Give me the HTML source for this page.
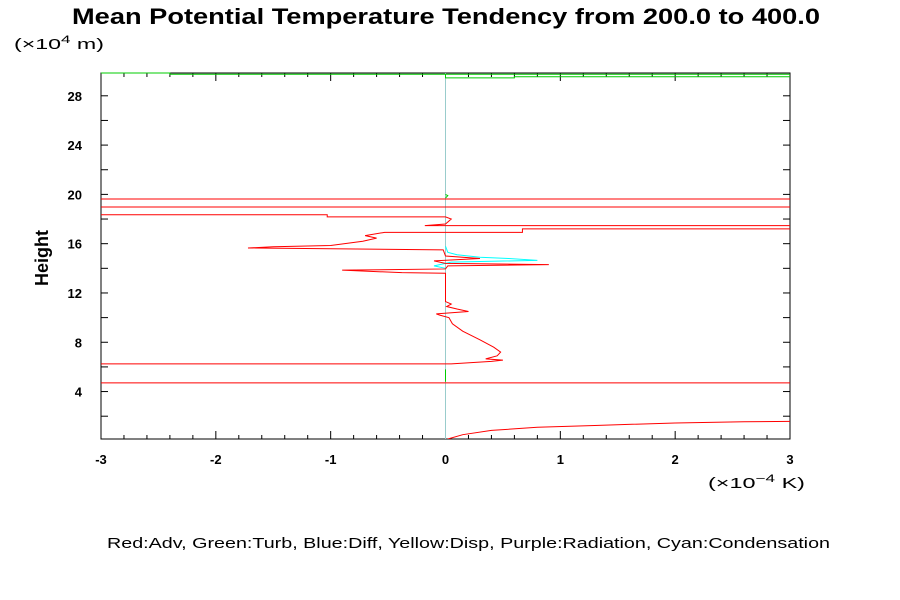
<!DOCTYPE html>
<html><head><meta charset="utf-8"><style>
body{margin:0;background:#fff;width:900px;height:600px;overflow:hidden;font-family:"Liberation Sans",sans-serif}
svg{display:block}
</style></head><body>
<svg id="c" width="900" height="600" xmlns="http://www.w3.org/2000/svg">
<text x="72" y="24" textLength="748" lengthAdjust="spacingAndGlyphs" font-size="22" font-weight="bold">Mean Potential Temperature Tendency from 200.0 to 400.0</text>
<text x="14" y="49" textLength="90" lengthAdjust="spacingAndGlyphs" font-size="15">(×10<tspan dy="-6" font-size="11">4</tspan><tspan dy="6"> m)</tspan></text>
<text x="48" y="258" text-anchor="middle" font-size="18" font-weight="bold" transform="rotate(-90 48 258)">Height</text>
<text x="708" y="488" textLength="97" lengthAdjust="spacingAndGlyphs" font-size="15">(×10<tspan dy="-6" font-size="11">−4</tspan><tspan dy="6"> K)</tspan></text>
<text x="107" y="548" textLength="723" lengthAdjust="spacingAndGlyphs" font-size="15">Red:Adv, Green:Turb, Blue:Diff, Yellow:Disp, Purple:Radiation, Cyan:Condensation</text>
<g id="ax"></g>
<g id="marks"></g>
</svg>
<script>
const xTicks=[-3,-2,-1,0,1,2,3];
const yTicks=[4,8,12,16,20,24,28];
const advX=[0.02,0.15,0.4,0.8,1.3,2.0,2.6,3.2,3.2,-3.2,-3.2,0.05,0.4,0.5,0.35,0.45,0.48,0.42,0.3,0.15,0.06,0.03,-0.05,-0.08,0.2,0.1,0.01,0.05,0.0,0.0,-0.38,-0.9,0.0,0.02,0.9,0.0,-0.1,0.3,0.0,-0.02,-1.72,-1.5,-1.0,-0.72,-0.6,-0.7,-0.53,0.67,0.67,3.2,3.2,-0.18,0.0,0.05,0.0,-1.03,-1.03,-3.2,-3.2,3.2,3.2,-3.2];
const advY=[0.15,0.5,0.85,1.1,1.25,1.45,1.55,1.6,4.7,4.7,6.25,6.25,6.45,6.55,6.65,6.9,7.2,7.6,8.2,8.9,9.5,10.0,10.2,10.3,10.5,10.7,10.9,11.1,11.3,13.6,13.65,13.85,13.95,14.2,14.3,14.4,14.6,14.8,15.0,15.5,15.65,15.75,15.85,16.2,16.45,16.65,16.92,16.92,17.2,17.2,17.46,17.46,17.6,18.0,18.17,18.17,18.35,18.35,18.98,18.98,19.63,19.63];
const condX=[0,0.02,0.1,0.3,0.55,0.8,0.3,0.05,0,-0.1,0];
const condY=[15.8,15.3,15.1,14.9,14.8,14.65,14.55,14.5,14.4,14.2,14.0];
const turbLowX=[0,0], turbLowY=[4.8,5.8];
const turbMidX=[0,0.02,0], turbMidY=[19.7,19.9,20.0];
const turbTopX=[-3.2,-2.4,-2.4,3.2], turbTopY=[29.85,29.85,29.75,29.75];
const turbTop2X=[0,0,0.6,0.6,3.2], turbTop2Y=[29.75,29.45,29.45,29.55,29.55];
const X0=101,X1=790,Y0=73,Y1=439,XMIN=-3,XMAX=3,YMIN=0.15,YMAX=29.85;
const sx=v=>X0+(v-XMIN)/(XMAX-XMIN)*(X1-X0);
const sy=v=>Y1-(v-YMIN)/(YMAX-YMIN)*(Y1-Y0);
const NS='http://www.w3.org/2000/svg';
function mk(t,a,p){const e=document.createElementNS(NS,t);for(const k in a)e.setAttribute(k,a[k]);p.appendChild(e);return e;}
const ax=document.getElementById('ax'),mg=document.getElementById('marks');
const clip=mk('clipPath',{id:'pc'},ax);mk('rect',{x:X0,y:Y0-1,width:X1-X0,height:Y1-Y0+1},clip);
const frame=mk('rect',{x:X0,y:Y0,width:X1-X0,height:Y1-Y0,fill:'none',stroke:'#000','stroke-width':1},ax);


for(let i=0;i<=30;i++){const v=-3+i*0.2;const x=sx(v);const maj=i%5==0;const L=maj?8:4;
mk('line',{x1:x,y1:Y1,x2:x,y2:Y1-L,stroke:'#000'},ax);mk('line',{x1:x,y1:Y0,x2:x,y2:Y0+L,stroke:'#000'},ax);}
for(let v=2;v<=28;v+=2){const y=sy(v);mk('line',{x1:X0,y1:y,x2:X0+7,y2:y,stroke:'#000'},ax);mk('line',{x1:X1,y1:y,x2:X1-7,y2:y,stroke:'#000'},ax);}
xTicks.forEach(v=>{const t=mk('text',{x:sx(v),y:464,'text-anchor':'middle','font-size':13,'font-weight':'bold'},ax);t.textContent=v;

});
yTicks.forEach(v=>{const t=mk('text',{x:82,y:sy(v)+5,'text-anchor':'end','font-size':13,'font-weight':'bold'},ax);t.textContent=v;

});
const g=mk('g',{'clip-path':'url(#pc)'},mg);
const zl=mk('line',{x1:sx(0),y1:Y0,x2:sx(0),y2:Y1,stroke:'#9cc',"stroke-width":1},g);


function series(xs,ys,col,name){const p=mk('polyline',{points:xs.map((x,i)=>sx(x)+','+sy(ys[i])).join(' '),fill:'none',stroke:col,'stroke-width':1},g);

}
series(condX,condY,'#0ff','condensation-line');
series(turbLowX,turbLowY,'#0c0','turb-line-low');
series(turbMidX,turbMidY,'#0c0','turb-line-mid');
series(turbTopX,turbTopY,'#0c0','turb-line-top');
series(turbTop2X,turbTop2Y,'#0c0','turb-line-top2');
series(advX,advY,'#f00','adv-line');
</script>
</body></html>
